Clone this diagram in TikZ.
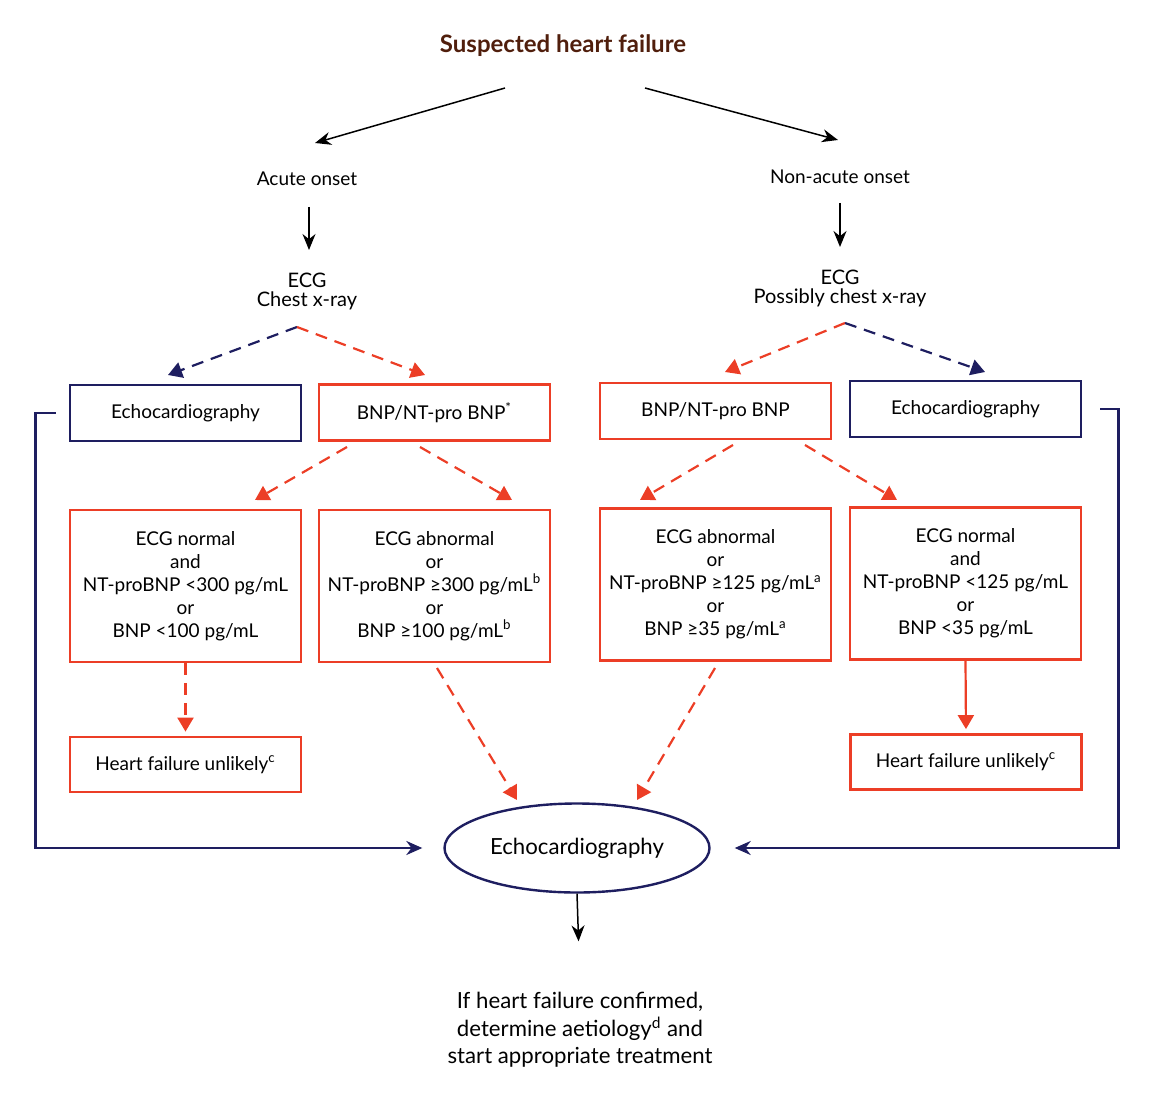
\documentclass[tikz,border=0pt]{standalone}
\usepackage{fontspec}
\setmainfont{Lato}
\usetikzlibrary{arrows.meta,shapes.geometric}

\definecolor{hfred}{RGB}{236,62,38}
\definecolor{hfnavy}{RGB}{30,30,96}
\definecolor{hfbrown}{RGB}{80,30,12}

\begin{document}
\begin{tikzpicture}
  [x=0.5pt, y=-0.5pt]
  \tikzstyle{txt} = [font=\fontsize{9.5}{11.5}\selectfont, align=center];
  \tikzstyle{box} = [txt, draw, line width=1.4pt, minimum width=115.5pt, inner sep=2pt];
  \tikzstyle{red_box}  = [box, draw=hfred];
  \tikzstyle{blue_box} = [box, draw=hfnavy];
  \tikzstyle{black_arrow} = [line width=0.75pt, -{Stealth[length=8pt, width=6.5pt]}];
  \tikzstyle{red_arrow}   = [hfred, line width=1.1pt, dash pattern=on 6pt off 4pt, -{Triangle[length=7pt, width=8pt]}];
  \tikzstyle{blue_arrow}  = [hfnavy, line width=1.1pt, dash pattern=on 6pt off 4pt, -{Triangle[length=7pt, width=8pt]}];
  \tikzstyle{blue_line}   = [hfnavy, line width=1.3pt, -{Stealth[length=8pt, width=7pt]}];

  \useasboundingbox (0,0) rectangle (1155,1118);

  \node[txt, font=\fontsize{12}{14}\selectfont\bfseries, text=hfbrown] (title) at (563,46) {Suspected heart failure};

  \node[txt] (acute)    at (307,179) {Acute onset};
  \node[txt] (nonacute) at (840,177) {Non-acute onset};

  \node[txt, font=\fontsize{10}{9.5}\selectfont] (ecg_l) at (307,291) {ECG\\Chest x-ray};
  \node[txt, font=\fontsize{10}{9.5}\selectfont] (ecg_r) at (840,288) {ECG\\Possibly chest x-ray};

  \node[blue_box, minimum height=28pt] (echo_l) at (185.5,413) {Echocardiography};
  \node[red_box,  minimum height=28pt] (bnp_l)  at (434.5,412.5) {BNP/NT-pro BNP\textsuperscript{*}};
  \node[red_box,  minimum height=28pt] (bnp_r)  at (715.5,411) {BNP/NT-pro BNP};
  \node[blue_box, minimum height=28pt] (echo_r) at (965.5,409) {Echocardiography};

  \node[red_box, minimum height=76pt] (norm_l) at (185.5,586)
    {ECG normal\\and\\NT-proBNP <300 pg/mL\\or\\BNP <100 pg/mL};
  \node[red_box, minimum height=76pt] (abn_l)  at (434.5,586)
    {ECG abnormal\\or\\NT-proBNP ≥300 pg/mL\textsuperscript{b}\\or\\BNP ≥100 pg/mL\textsuperscript{b}};
  \node[red_box, minimum height=76pt] (abn_r)  at (715.5,584.5)
    {ECG abnormal\\or\\NT-proBNP ≥125 pg/mL\textsuperscript{a}\\or\\BNP ≥35 pg/mL\textsuperscript{a}};
  \node[red_box, minimum height=76pt] (norm_r) at (965.5,583.5)
    {ECG normal\\and\\NT-proBNP <125 pg/mL\\or\\BNP <35 pg/mL};

  \node[red_box, minimum height=27.5pt] (unl_l) at (185.5,764.5) {Heart failure unlikely\textsuperscript{c}};
  \node[red_box, minimum height=27.5pt] (unl_r) at (966,762) {Heart failure unlikely\textsuperscript{c}};

  \node[ellipse, draw=hfnavy, line width=1.2pt, minimum width=132.5pt, minimum height=44.5pt,
        font=\fontsize{11.1}{13}\selectfont] (echo) at (577,848) {Echocardiography};

  \node[txt, font=\fontsize{11.1}{13.75}\selectfont] (final) at (580,1030)
    {If heart failure confirmed,\\determine aetiology\textsuperscript{d} and\\start appropriate treatment};

  % onset
  \draw[black_arrow] ([shift={(-58,42)}]title.center) -- ([shift={(8,-36)}]acute.center);
  \draw[black_arrow] ([shift={(82,42)}]title.center) -- ([shift={(-2,-37)}]nonacute.center);
  \draw[black_arrow] ([shift={(2,28)}]acute.center) -- ([shift={(2,-41)}]ecg_l.center);
  \draw[black_arrow] ([shift={(0,26)}]nonacute.center) -- ([shift={(0,-41)}]ecg_r.center);

  % tests
  \draw[blue_arrow] ([shift={(-10,36)}]ecg_l.center) -- ([shift={(-17.5,-38)}]echo_l.center);
  \draw[red_arrow]  ([shift={(-10,36)}]ecg_l.center) -- ([shift={(-9.5,-37.5)}]bnp_l.center);
  \draw[red_arrow]  ([shift={(5,35)}]ecg_r.center) -- ([shift={(9.5,-39)}]bnp_r.center);
  \draw[blue_arrow] ([shift={(5,35)}]ecg_r.center) -- ([shift={(19.5,-37)}]echo_r.center);

  \draw[red_arrow] ([shift={(-87.5,34.5)}]bnp_l.center) -- ([shift={(69.5,-86)}]norm_l.center);
  \draw[red_arrow] ([shift={(-14.5,34.5)}]bnp_l.center) -- ([shift={(77.5,-86)}]abn_l.center);
  \draw[red_arrow] ([shift={(17.5,34)}]bnp_r.center) -- ([shift={(-75.5,-84.5)}]abn_r.center);
  \draw[red_arrow] ([shift={(89.5,34)}]bnp_r.center) -- ([shift={(-68.5,-83.5)}]norm_r.center);

  \draw[red_arrow, shorten >=2pt] (norm_l.south) -- (unl_l.north);
  \draw[red_arrow, solid, shorten >=2pt] (norm_r.south) -- (unl_r.north);

  \draw[red_arrow] ([shift={(2.5,82)}]abn_l.center) -- ([shift={(-60,-48)}]echo.center);
  \draw[red_arrow] ([shift={(-0.5,83.5)}]abn_r.center) -- ([shift={(60,-48)}]echo.center);

  % direct echo
  \draw[blue_line, shorten <=6.5pt, shorten >=10.5pt] (echo_l.west) -- ++(-33,0) |- (echo.west);
  \draw[blue_line, shorten <=9pt, shorten >=12pt] (echo_r.east) -- ++(36,0) |- (echo.east);

  \draw[black_arrow, shorten >=22pt] (echo.south) -- (final.north);

\end{tikzpicture}
\end{document}
